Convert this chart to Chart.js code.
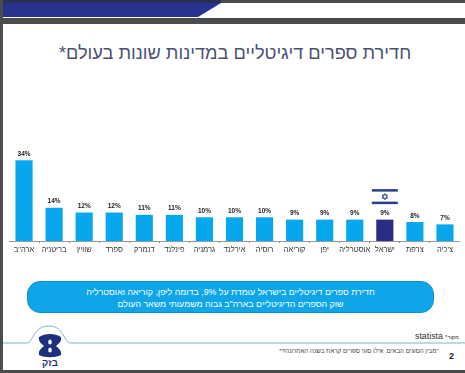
<!DOCTYPE html>
<html lang="he">
<head>
<meta charset="utf-8">
<script src="https://cdn.jsdelivr.net/npm/chart.js@4"></script>
<style>
  html, body { margin: 0; padding: 0; background: #fff; }
  #page { position: relative; width: 465px; height: 373px; overflow: hidden; background: #fff;
          font-family: "Liberation Sans", "DejaVu Sans", sans-serif; }
  .abs { position: absolute; }
  .txt { position: absolute; direction: rtl; white-space: nowrap; }
  #chart-box { position: absolute; left: 9px; top: 140px; width: 451px; height: 116px; }
  #title { left: 0; width: 470px; top: 40px; text-align: center; font-size: 18.2px; line-height: 26px; color: #4d5075; }
  #pill { position: absolute; left: 27px; top: 281px; width: 407px; height: 32px; border-radius: 13px;
          background: #0fa5e9; border: 1px solid #0c8fd0; box-sizing: border-box; }
  .pill-line { left: 27px; width: 407px; text-align: center; color: #fff; font-size: 8.8px; line-height: 11px; }
</style>
</head>
<body>
<div id="page">
  <div class="abs" style="left:0;top:0;width:465px;height:24px;background:#4a4c4e"></div>
  <div class="abs" style="left:3px;top:3px;width:462px;height:15px;background:#fff"></div>
  <svg class="abs" style="left:0;top:0" width="465" height="24">
    <polygon points="3,3 221,3 198,17 3,17" fill="#27338f"/>
    <rect x="0" y="0" width="221" height="3" fill="#2b2f55"/>
  </svg>
  <div class="abs" style="left:0;top:0;width:3px;height:373px;background:#4a4c4e"></div>
  <div class="abs" style="left:0;top:370px;width:465px;height:3px;background:#4a4c4e"></div>

  <div id="title" class="txt">חדירת ספרים דיגיטליים במדינות שונות בעולם*</div>

  <div id="chart-box"><canvas id="myChart"></canvas></div>

  <div id="pill"></div>
  <div class="txt pill-line" style="top:287px">חדירת ספרים דיגיטליים בישראל עומדת על 9%, בדומה ליפן, קוריאה ואוסטרליה</div>
  <div class="txt pill-line" style="top:299px">שוק הספרים הדיגיטליים בארה"ב גבוה משמעותי משאר העולם</div>

  <svg class="abs" style="left:0;top:325px" width="465" height="48">
    <path d="M3 18 H27 C33 18 33 1 49 1 C65 1 63 18 71 18 H465" fill="none" stroke="#7fb6c4" stroke-width="1"/>
    <path d="M39 12 C45 8 55 8 61 12 C62 17 58 19 56 21 C58 23 62 25 61 30 C55 33 45 33 39 30 C38 25 42 23 44 21 C42 19 38 17 39 12 Z" fill="#1f2f80"/>
    <ellipse cx="50" cy="17" rx="1.8" ry="2.6" fill="#fff"/>
    <ellipse cx="50" cy="25" rx="1.8" ry="2.6" fill="#fff"/>
  </svg>
  <div class="txt" style="left:36px;width:28px;top:357px;text-align:center;font-size:9.5px;line-height:11px;font-weight:bold;color:#1f2f80">בזק</div>

  <div class="txt" style="left:415px;top:331px;font-size:8.8px;line-height:11px;color:#333;direction:ltr">statista <span style="font-size:5.5px;direction:rtl;unicode-bidi:embed">מקור*</span></div>
  <div class="txt" style="left:270px;width:178px;top:347px;text-align:center;font-size:6.2px;line-height:8px;color:#444">"מבין הסוגים הבאים, אילו סוגי ספרים קראת בשנה האחרונה?*</div>
  <div class="abs" style="left:449px;top:351px;font-size:9px;line-height:11px;font-weight:bold;color:#222">2</div>
</div>

<script>
var categories = ['ארה"ב', 'בריטניה', 'שוויץ', 'ספרד', 'דנמרק', 'פינלנד', 'גרמניה', 'אירלנד', 'רוסיה', 'קוריאה', 'יפן', 'אוסטרליה', 'ישראל', 'צרפת', "צ'כיה"];
var penetration = [34, 14, 12, 12, 11, 11, 10, 10, 10, 9, 9, 9, 9, 8, 7];
var highlightCountry = 'ישראל';

var barBlue = '#06a7ec';
var barNavy = '#2a2c86';

// value labels above the bars + the flag above Israel
var barLabels = {
  id: 'barLabels',
  afterDatasetsDraw: function (chart) {
    var c = chart.ctx;
    var meta = chart.getDatasetMeta(0);
    c.save();
    c.textAlign = 'center';
    c.textBaseline = 'bottom';
    c.font = 'bold 6.5px "Liberation Sans"';
    c.fillStyle = '#222';
    meta.data.forEach(function (bar, i) {
      c.fillText(penetration[i] + '%', bar.x, bar.y - 3);
    });

    var idx = categories.indexOf(highlightCountry);
    var x = meta.data[idx].x;
    var y = meta.data[idx].y - 23;
    c.fillStyle = '#26408f';
    c.fillRect(x - 13, y - 7.5, 26, 2.5);
    c.fillRect(x - 13, y + 5, 26, 2.5);
    c.strokeStyle = '#26408f';
    c.lineWidth = 0.8;
    [-1, 1].forEach(function (d) {
      c.beginPath();
      c.moveTo(x, y - d * 3.2);
      c.lineTo(x - 2.8, y + d * 1.6);
      c.lineTo(x + 2.8, y + d * 1.6);
      c.closePath();
      c.stroke();
    });
    c.restore();
  }
};

const ctx = document.getElementById('myChart');
new Chart(ctx, {
  type: 'bar',
  data: {
    labels: categories,
    datasets: [{
      label: 'חדירת ספרים דיגיטליים',
      data: penetration,
      backgroundColor: categories.map(function (name) {
        return name === highlightCountry ? barNavy : barBlue;
      }),
      barPercentage: 0.57,
      categoryPercentage: 1
    }]
  },
  options: {
    responsive: true,
    maintainAspectRatio: false,
    animation: false,
    layout: { padding: { top: 6, bottom: 0 } },
    plugins: { legend: { display: false }, tooltip: { enabled: false } },
    scales: {
      x: {
        grid: { display: true, drawOnChartArea: false, drawTicks: true, tickLength: 2, color: '#888' },
        border: { color: '#9a9a9a', width: 1 },
        ticks: {
          color: '#333',
          font: { size: 7.5, family: '"Liberation Sans"' },
          padding: 2,
          autoSkip: false,
          maxRotation: 0
        }
      },
      y: { display: false, min: 0, max: 40 }
    }
  },
  plugins: [barLabels]
});
</script>
</body>
</html>
